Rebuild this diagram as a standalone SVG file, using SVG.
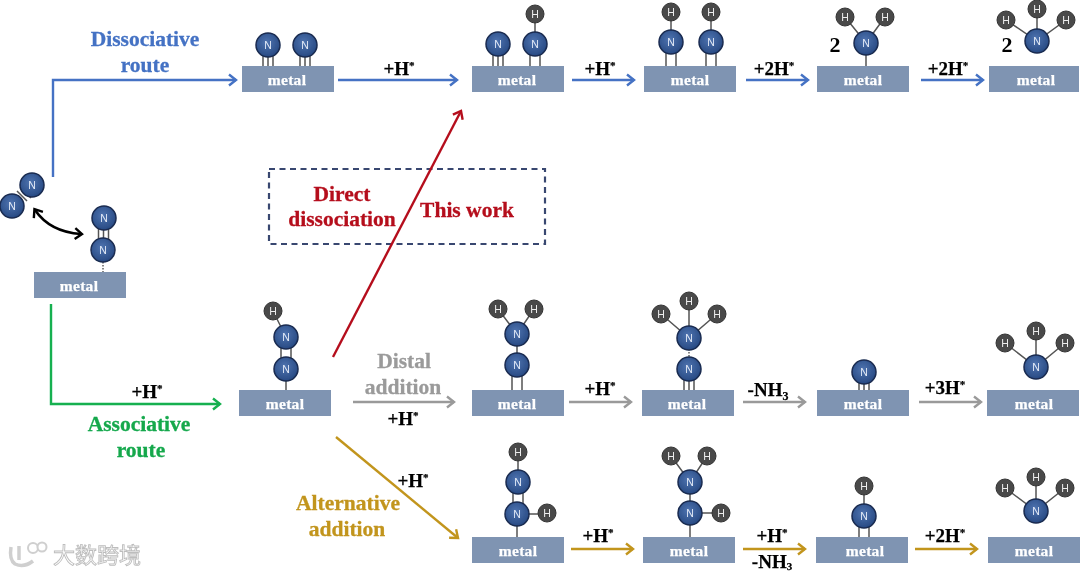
<svg xmlns="http://www.w3.org/2000/svg" width="1080" height="575" viewBox="0 0 1080 575">
<style>
text{font-family:"Liberation Serif","Noto Sans CJK SC",serif;font-weight:bold;text-anchor:middle}
.m{fill:#7f94b2}
.mt{fill:#fff;stroke:#fff;stroke-width:.25;font-size:15.5px;letter-spacing:.3px}
.n{fill:url(#ng);stroke:#1a2b50;stroke-width:1.5;r:12px}
.h{fill:#4a4a4a;stroke:#333;stroke-width:1;r:9px}
.nt,.ht{font-family:"Liberation Sans",sans-serif;font-weight:normal;font-size:10.5px}
.nt{fill:#e4ebf7}.ht{fill:#eee}
.b{stroke:#555;stroke-width:1.5;fill:none}
.d{stroke:#555;stroke-width:1.4;stroke-dasharray:1.5 1.5;fill:none}
.lb{font-size:19px;fill:#000;stroke:#000;stroke-width:.25}
.rt{font-size:21.5px;stroke-width:.3}
.c{fill:none;stroke-width:2.4}
.blue{stroke:#4472c4}.green{stroke:#14b04f}.gray{stroke:#9a9a9a}.gold{stroke:#c2951f}.red{stroke:#b5101c}
</style>
<defs>
<filter id="soft" x="0" y="0" width="1080" height="575" filterUnits="userSpaceOnUse"><feGaussianBlur stdDeviation="0.4"/></filter>
<radialGradient id="ng" cx=".45" cy=".4" r=".65"><stop offset="0" stop-color="#4f74b0"/><stop offset="1" stop-color="#24467f"/></radialGradient>
<marker id="ab" markerUnits="userSpaceOnUse" markerWidth="14" markerHeight="14" refX="10" refY="7" orient="auto"><path d="M3 1.5L10 7L3 12.5" fill="none" stroke="#4472c4" stroke-width="2.4"/></marker>
<marker id="ag" markerUnits="userSpaceOnUse" markerWidth="14" markerHeight="14" refX="10" refY="7" orient="auto"><path d="M3 1.5L10 7L3 12.5" fill="none" stroke="#14b04f" stroke-width="2.4"/></marker>
<marker id="ay" markerUnits="userSpaceOnUse" markerWidth="14" markerHeight="14" refX="10" refY="7" orient="auto"><path d="M3 1.5L10 7L3 12.5" fill="none" stroke="#9a9a9a" stroke-width="2.4"/></marker>
<marker id="ao" markerUnits="userSpaceOnUse" markerWidth="14" markerHeight="14" refX="10" refY="7" orient="auto"><path d="M3 1.5L10 7L3 12.5" fill="none" stroke="#c2951f" stroke-width="2.4"/></marker>
<marker id="ar" markerUnits="userSpaceOnUse" markerWidth="14" markerHeight="14" refX="10" refY="7" orient="auto"><path d="M3 1.5L10 7L3 12.5" fill="none" stroke="#b5101c" stroke-width="2.4"/></marker>
<marker id="ak" markerUnits="userSpaceOnUse" markerWidth="14" markerHeight="14" refX="9" refY="7" orient="auto-start-reverse"><path d="M3 1.5L10 7L3 12.5" fill="none" stroke="#000" stroke-width="2.4"/></marker>
</defs>
<rect width="1080" height="575" fill="#fff"/>
<g id="diagram" filter="url(#soft)">

<g id="dashed-box"><rect x="269" y="169" width="276" height="75" fill="none" stroke="#39466f" stroke-width="2.2" stroke-dasharray="6 4.5"/></g>

<g id="connectors">
<path class="c blue" marker-end="url(#ab)" d="M53 177V80H236"/>
<path class="c blue" marker-end="url(#ab)" d="M338 80H457"/>
<path class="c blue" marker-end="url(#ab)" d="M572 80H634"/>
<path class="c blue" marker-end="url(#ab)" d="M746 80H808"/>
<path class="c blue" marker-end="url(#ab)" d="M921 80H983"/>
<path class="c green" marker-end="url(#ag)" d="M51 304V404H220"/>
<path class="c gray" marker-end="url(#ay)" d="M353 402H454"/>
<path class="c gray" marker-end="url(#ay)" d="M569 402H631"/>
<path class="c gray" marker-end="url(#ay)" d="M743 402H805"/>
<path class="c gray" marker-end="url(#ay)" d="M919 402H981"/>
<path class="c gold" marker-end="url(#ao)" d="M336 437L458 538"/>
<path class="c gold" marker-end="url(#ao)" d="M571 549H633"/>
<path class="c gold" marker-end="url(#ao)" d="M743 549H805"/>
<path class="c gold" marker-end="url(#ao)" d="M915 549H977"/>
<path class="c red" marker-end="url(#ar)" d="M333 357L461 111"/>
<path fill="none" stroke="#000" stroke-width="2.6" marker-start="url(#ak)" marker-end="url(#ak)" d="M35 210Q50 232 81 234"/>
</g>

<g id="labels">
<text class="rt" x="145" y="46" fill="#4472c4" stroke="#4472c4">Dissociative</text>
<text class="rt" x="145" y="72" fill="#4472c4" stroke="#4472c4">route</text>
<text class="rt" x="139" y="431" fill="#14a84c" stroke="#14a84c">Associative</text>
<text class="rt" x="141" y="457" fill="#14a84c" stroke="#14a84c">route</text>
<text class="rt" x="404" y="368" fill="#9a9a9a" stroke="#9a9a9a">Distal</text>
<text class="rt" x="403" y="394" fill="#9a9a9a" stroke="#9a9a9a">addition</text>
<text class="rt" x="348" y="510" fill="#c2951f" stroke="#c2951f">Alternative</text>
<text class="rt" x="347" y="536" fill="#c2951f" stroke="#c2951f">addition</text>
<text class="rt" x="342" y="201" fill="#b5101c" stroke="#b5101c">Direct</text>
<text class="rt" x="342" y="226" fill="#b5101c" stroke="#b5101c">dissociation</text>
<text class="rt" x="467" y="217" fill="#b5101c" stroke="#b5101c">This work</text>
<text class="lb" x="399" y="75">+H<tspan font-size="11" dy="-6">*</tspan></text>
<text class="lb" x="600" y="75">+H<tspan font-size="11" dy="-6">*</tspan></text>
<text class="lb" x="774" y="75">+2H<tspan font-size="11" dy="-6">*</tspan></text>
<text class="lb" x="948" y="75">+2H<tspan font-size="11" dy="-6">*</tspan></text>
<text class="lb" x="147" y="398">+H<tspan font-size="11" dy="-6">*</tspan></text>
<text class="lb" x="403" y="425">+H<tspan font-size="11" dy="-6">*</tspan></text>
<text class="lb" x="600" y="395">+H<tspan font-size="11" dy="-6">*</tspan></text>
<text class="lb" x="768" y="396">-NH<tspan font-size="12" dy="4">3</tspan></text>
<text class="lb" x="945" y="394">+3H<tspan font-size="11" dy="-6">*</tspan></text>
<text class="lb" x="413" y="487">+H<tspan font-size="11" dy="-6">*</tspan></text>
<text class="lb" x="598" y="542">+H<tspan font-size="11" dy="-6">*</tspan></text>
<text class="lb" x="772" y="542">+H<tspan font-size="11" dy="-6">*</tspan></text>
<text class="lb" x="772" y="568">-NH<tspan font-size="11" dy="2">3</tspan></text>
<text class="lb" x="945" y="542">+2H<tspan font-size="11" dy="-6">*</tspan></text>
</g>

<g id="free-n2">
<path class="b" d="M17 191L27 201M21 188L31 198M24 185L34 195"/>
<circle class="n" cx="32" cy="185"/><text class="nt" x="32" y="189">N</text>
<circle class="n" cx="12" cy="206"/><text class="nt" x="12" y="210">N</text>
</g>

<g id="s0">
<rect class="m" x="34" y="272" width="92" height="26"/><text class="mt" x="79" y="291">metal</text>
<path class="d" d="M103 262V272"/><path class="b" d="M98.5 228V240M103.5 228V240M108.5 228V240"/>
<circle class="n" cx="104" cy="218"/><text class="nt" x="104" y="222">N</text>
<circle class="n" cx="103" cy="250"/><text class="nt" x="103" y="254">N</text>
</g>

<g id="d1">
<rect class="m" x="242" y="66" width="92" height="26"/><text class="mt" x="287" y="85">metal</text>
<path class="b" d="M263 56V66M268 56V66M273 56V66M300 56V66M305 56V66M310 56V66"/>
<circle class="n" cx="268" cy="45"/><text class="nt" x="268" y="49">N</text>
<circle class="n" cx="305" cy="45"/><text class="nt" x="305" y="49">N</text>
</g>
<g id="d2">
<rect class="m" x="472" y="66" width="92" height="26"/><text class="mt" x="517" y="85">metal</text>
<path class="b" d="M493 55V66M498 55V66M503 55V66M530 55V66M540 55V66M535 22V33"/>
<circle class="n" cx="498" cy="44"/><text class="nt" x="498" y="48">N</text>
<circle class="n" cx="535" cy="44"/><text class="nt" x="535" y="48">N</text>
<circle class="h" cx="535" cy="14"/><text class="ht" x="535" y="18">H</text>
</g>
<g id="d3">
<rect class="m" x="644" y="66" width="92" height="26"/><text class="mt" x="690" y="85">metal</text>
<path class="b" d="M666 53V66M676 53V66M706 53V66M716 53V66M671 20V31M711 20V31"/>
<circle class="n" cx="671" cy="42"/><text class="nt" x="671" y="46">N</text>
<circle class="n" cx="711" cy="42"/><text class="nt" x="711" y="46">N</text>
<circle class="h" cx="671" cy="12"/><text class="ht" x="671" y="16">H</text>
<circle class="h" cx="711" cy="12"/><text class="ht" x="711" y="16">H</text>
</g>
<g id="d4">
<rect class="m" x="817" y="66" width="92" height="26"/><text class="mt" x="863" y="85">metal</text>
<text x="835" y="52" font-size="22" fill="#000">2</text>
<path class="b" d="M866 54V66M845 17L866 43L885 17"/>
<circle class="n" cx="866" cy="43"/><text class="nt" x="866" y="47">N</text>
<circle class="h" cx="845" cy="17"/><text class="ht" x="845" y="21">H</text>
<circle class="h" cx="885" cy="17"/><text class="ht" x="885" y="21">H</text>
</g>
<g id="d5">
<rect class="m" x="989" y="66" width="90" height="26"/><text class="mt" x="1036" y="85">metal</text>
<text x="1007" y="52" font-size="22" fill="#000">2</text>
<path class="b" d="M1006 20L1037 41L1066 20M1037 9V41"/>
<circle class="n" cx="1037" cy="41"/><text class="nt" x="1037" y="45">N</text>
<circle class="h" cx="1006" cy="20"/><text class="ht" x="1006" y="24">H</text>
<circle class="h" cx="1037" cy="9"/><text class="ht" x="1037" y="13">H</text>
<circle class="h" cx="1066" cy="20"/><text class="ht" x="1066" y="24">H</text>
</g>

<g id="a1">
<rect class="m" x="239" y="390" width="92" height="26"/><text class="mt" x="285" y="409">metal</text>
<path class="b" d="M286 380V390M281 347V359M291 347V359M273 311L286 337"/>
<circle class="n" cx="286" cy="337"/><text class="nt" x="286" y="341">N</text>
<circle class="n" cx="286" cy="369"/><text class="nt" x="286" y="373">N</text>
<circle class="h" cx="273" cy="311"/><text class="ht" x="273" y="315">H</text>
</g>
<g id="g2">
<rect class="m" x="472" y="390" width="92" height="26"/><text class="mt" x="517" y="409">metal</text>
<path class="b" d="M512 376V390M522 376V390M517 334V365M498 309L517 334L534 309"/>
<circle class="n" cx="517" cy="334"/><text class="nt" x="517" y="338">N</text>
<circle class="n" cx="517" cy="365"/><text class="nt" x="517" y="369">N</text>
<circle class="h" cx="498" cy="309"/><text class="ht" x="498" y="313">H</text>
<circle class="h" cx="534" cy="309"/><text class="ht" x="534" y="313">H</text>
</g>
<g id="g3">
<rect class="m" x="642" y="390" width="92" height="26"/><text class="mt" x="687" y="409">metal</text>
<path class="b" d="M684 380V390M689 380V390M694 380V390M661 314L689 338L717 314M689 301V338"/>
<path class="d" d="M689 349V358"/>
<circle class="n" cx="689" cy="338"/><text class="nt" x="689" y="342">N</text>
<circle class="n" cx="689" cy="369"/><text class="nt" x="689" y="373">N</text>
<circle class="h" cx="661" cy="314"/><text class="ht" x="661" y="318">H</text>
<circle class="h" cx="689" cy="301"/><text class="ht" x="689" y="305">H</text>
<circle class="h" cx="717" cy="314"/><text class="ht" x="717" y="318">H</text>
</g>
<g id="g4">
<rect class="m" x="817" y="390" width="92" height="26"/><text class="mt" x="863" y="409">metal</text>
<path class="b" d="M859 380V390M864 380V390M869 380V390"/>
<circle class="n" cx="864" cy="372"/><text class="nt" x="864" y="376">N</text>
</g>
<g id="g5">
<rect class="m" x="987" y="390" width="92" height="26"/><text class="mt" x="1034" y="409">metal</text>
<path class="b" d="M1005 343L1036 367L1065 343M1036 331V367"/>
<circle class="n" cx="1036" cy="367"/><text class="nt" x="1036" y="371">N</text>
<circle class="h" cx="1005" cy="343"/><text class="ht" x="1005" y="347">H</text>
<circle class="h" cx="1036" cy="331"/><text class="ht" x="1036" y="335">H</text>
<circle class="h" cx="1065" cy="343"/><text class="ht" x="1065" y="347">H</text>
</g>

<g id="o2">
<rect class="m" x="472" y="537" width="92" height="26"/><text class="mt" x="518" y="556">metal</text>
<path class="b" d="M517 524V537M513 490V504M523 490V504M518 452V482M517 514H547"/>
<circle class="n" cx="518" cy="482"/><text class="nt" x="518" y="486">N</text>
<circle class="n" cx="517" cy="514"/><text class="nt" x="517" y="518">N</text>
<circle class="h" cx="518" cy="452"/><text class="ht" x="518" y="456">H</text>
<circle class="h" cx="547" cy="513"/><text class="ht" x="547" y="517">H</text>
</g>
<g id="o3">
<rect class="m" x="643" y="537" width="92" height="26"/><text class="mt" x="689" y="556">metal</text>
<path class="b" d="M690 524V537M690 482V513M671 456L690 482L707 456M690 513H721"/>
<circle class="n" cx="690" cy="482"/><text class="nt" x="690" y="486">N</text>
<circle class="n" cx="690" cy="513"/><text class="nt" x="690" y="517">N</text>
<circle class="h" cx="671" cy="456"/><text class="ht" x="671" y="460">H</text>
<circle class="h" cx="707" cy="456"/><text class="ht" x="707" y="460">H</text>
<circle class="h" cx="721" cy="513"/><text class="ht" x="721" y="517">H</text>
</g>
<g id="o4">
<rect class="m" x="816" y="537" width="92" height="26"/><text class="mt" x="865" y="556">metal</text>
<path class="b" d="M859 526V537M869 526V537M864 486V516"/>
<circle class="n" cx="864" cy="516"/><text class="nt" x="864" y="520">N</text>
<circle class="h" cx="864" cy="486"/><text class="ht" x="864" y="490">H</text>
</g>
<g id="o5">
<rect class="m" x="988" y="537" width="92" height="26"/><text class="mt" x="1034" y="556">metal</text>
<path class="b" d="M1005 488L1036 511L1065 488M1036 477V511"/>
<circle class="n" cx="1036" cy="511"/><text class="nt" x="1036" y="515">N</text>
<circle class="h" cx="1005" cy="488"/><text class="ht" x="1005" y="492">H</text>
<circle class="h" cx="1036" cy="477"/><text class="ht" x="1036" y="481">H</text>
<circle class="h" cx="1065" cy="488"/><text class="ht" x="1065" y="492">H</text>
</g>

<g id="watermark">
<path d="M11 547Q9 560 15 564Q24 568 33 561M19 546V560" fill="none" stroke="#cfcfcf" stroke-width="3.5"/>
<circle cx="33" cy="548" r="5" fill="#fff" stroke="#cfcfcf" stroke-width="2"/><circle cx="42" cy="547" r="4.5" fill="#fff" stroke="#cfcfcf" stroke-width="2"/>
<text x="97" y="563" font-size="22" style="font-family:'Noto Sans CJK SC',sans-serif;font-weight:normal" fill="#fff" stroke="#bdbdbd" stroke-width=".9">大数跨境</text>
</g>
</g>
</svg>
